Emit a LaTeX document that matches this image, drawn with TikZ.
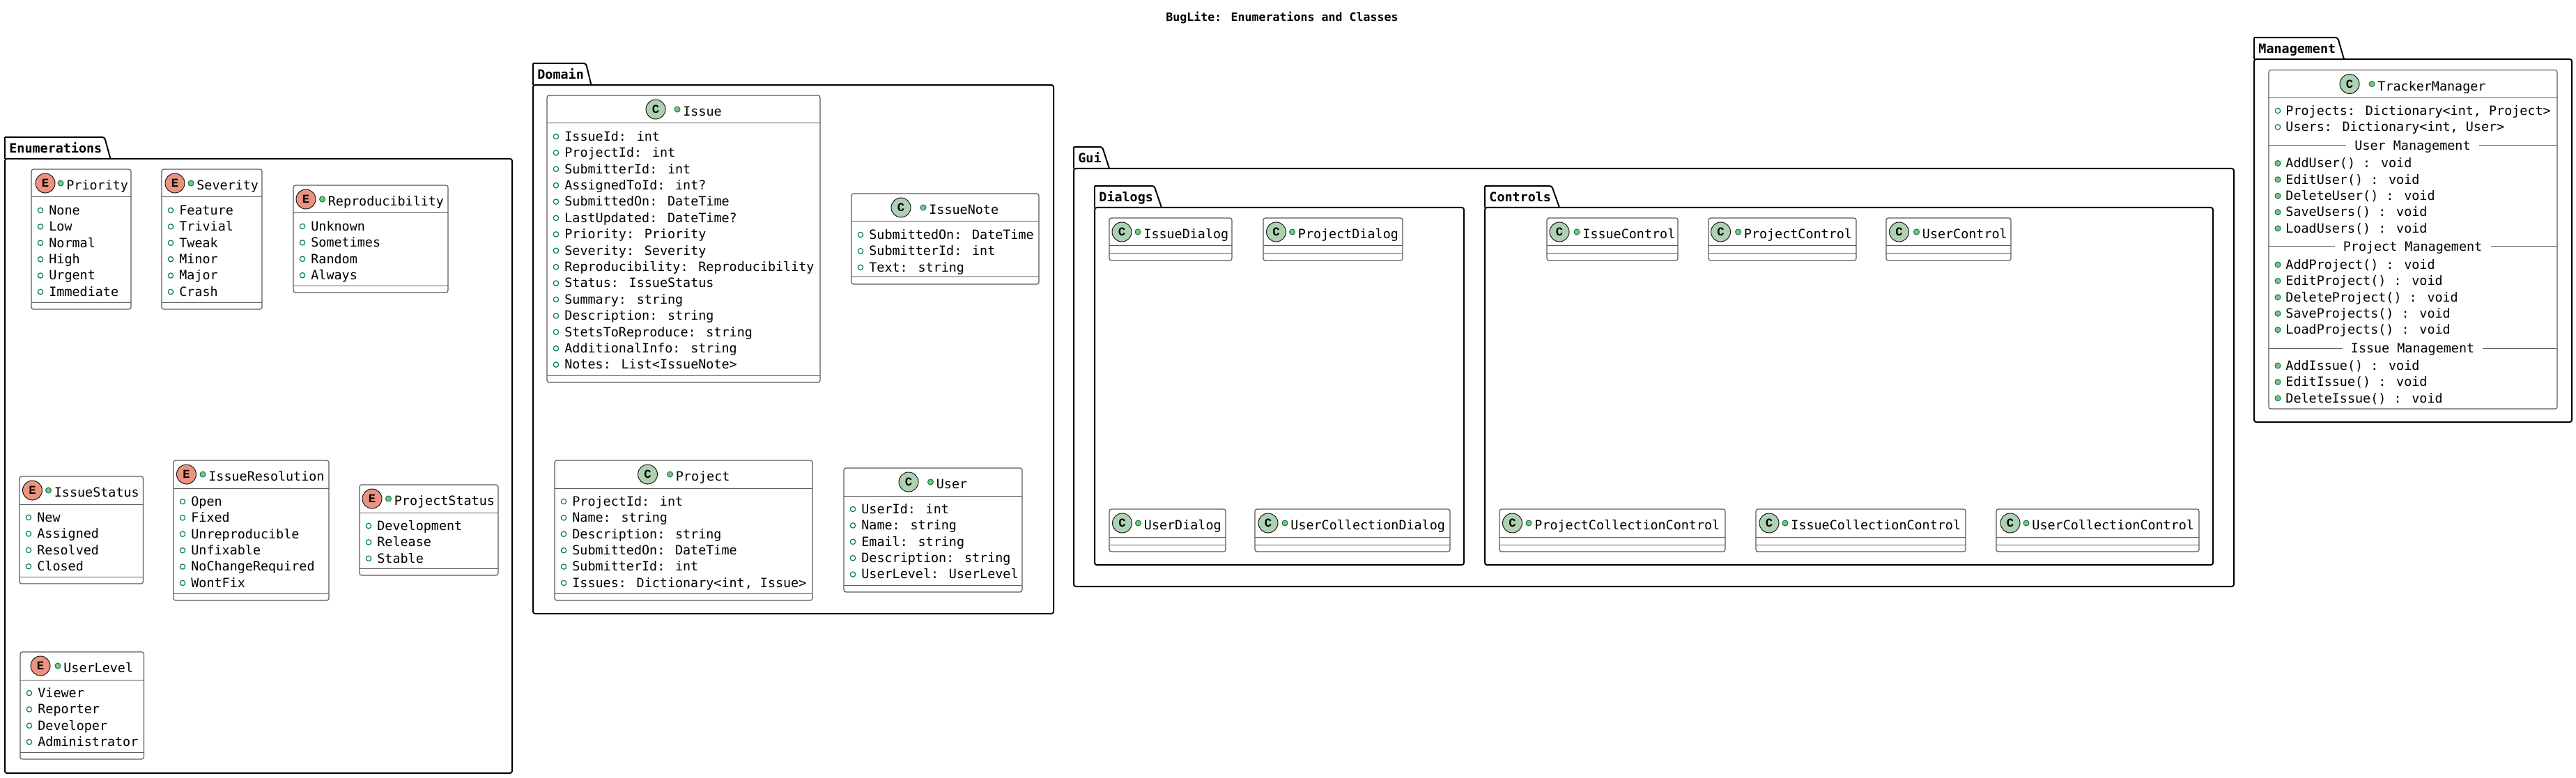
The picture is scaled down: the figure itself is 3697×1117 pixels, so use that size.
\documentclass[tikz,border=0pt]{standalone}
\usepackage{fontspec}
\usepackage{xcolor}
\setmainfont{DejaVu Sans Mono}
\newfontfamily\letterfont{Liberation Mono}[BoldFont={Liberation Mono Bold}]

\definecolor{enumfill}{HTML}{EB937F}
\definecolor{classfill}{HTML}{ADD1B2}
\definecolor{dotline}{HTML}{038048}
\definecolor{dotfill}{HTML}{84BE84}
\definecolor{boxline}{HTML}{5A5A5A}

% package: name, x1, x2, tab top, body top, bottom, tab right top, tab right foot, title
\newcommand{\umlpackage}[9]{
    \draw[pack] (#2,#4) -- (#7,#4) -- (#8,#5);
    \draw[pack] (#2,#5) -- (#2,#4);
    \draw[pack] (#2,#5) rectangle (#3,#6);
    \node[packtext] (#1) at (#2+6,#5-8) {#9};
}
% class: name, letter, x1, x2, top, bottom, ball x, text x, title
\newcommand{\umlclass}[9]{
    \draw[classbox] (#3,#5) rectangle (#4,#6);
    \draw[rule] (#3,#5+40) -- (#4,#5+40);
    \draw[rule] (#3,#6-10) -- (#4,#6-10);
    \node[ball#2] (#1-ball) at (#7,#5+20) {#2};
    \draw[pubdot] (#8-8,#5+20) circle (4);
    \node[rowtext] (#1) at (#8,#5+29.8) {#9};
}
% fields of a class: name, x1, top, rows
\newcommand{\umlrows}[4]{
    \foreach \row [count=\i from 0] in {#4} {
        \pgfmathsetmacro{\ry}{#3+59+23.4*\i}
        \draw[pubfield] (#2+13,\ry) circle (3.7);
        \node[rowtext] (#1-r\i) at (#2+25,\ry+6.3) {\row};
    }
}

\begin{document}
\begin{tikzpicture}[x=0.5pt,y=-0.5pt,
            pack/.style = {draw=black, line width=1pt, rounded corners=1.5pt},
            packtext/.style = {anchor=base west, inner sep=0pt, font=\fontsize{9.2}{11}\selectfont\bfseries},
            classbox/.style = {draw=boxline, line width=0.6pt, fill=white, rounded corners=1.5pt},
            rule/.style = {draw=boxline, line width=0.5pt},
            rowtext/.style = {anchor=base west, inner sep=0pt, font=\fontsize{9.2}{11}\selectfont},
            sectext/.style = {anchor=base, inner sep=0pt, font=\fontsize{9.2}{11}\selectfont},
            ballE/.style = {circle, draw=black!90, line width=0.5pt, fill=enumfill, minimum size=14pt, inner sep=0pt, font=\letterfont\fontsize{8.6}{9}\selectfont\bfseries},
            ballC/.style = {ballE, fill=classfill},
            pubdot/.style = {draw=dotline, line width=0.5pt, fill=dotfill},
            pubfield/.style = {draw=dotline, line width=0.6pt, fill=white}]
            \useasboundingbox (0,0) rectangle (3697,1117);
            % Title
            \node[anchor=base, inner sep=0pt, font=\fontsize{8.3}{10}\selectfont\bfseries] (title) at (1840,31) {BugLite: Enumerations and Classes};

            % Enumerations
            \umlpackage{enumerations}{7}{735}{197}{228}{1110}{150}{158.5}{Enumerations}
            \umlclass{priority}{E}{45}{188}{243}{444}{65}{95}{Priority}
            \umlrows{priority}{45}{243}{None,Low,Normal,High,Urgent,Immediate}
            \umlclass{severity}{E}{232}{376}{243}{444}{251}{282}{Severity}
            \umlrows{severity}{232}{243}{Feature,Trivial,Tweak,Minor,Major,Crash}
            \umlclass{reproducibility}{E}{421}{643}{266}{420}{439}{470.5}{Reproducibility}
            \umlrows{reproducibility}{421}{266}{Unknown,Sometimes,Random,Always}
            \umlclass{issuestatus}{E}{28}{205.5}{684}{838}{46.5}{77.5}{IssueStatus}
            \umlrows{issuestatus}{28}{684}{New,Assigned,Resolved,Closed}
            \umlclass{issueresolution}{E}{249}{472}{661}{862}{267.5}{299}{IssueResolution}
            \umlrows{issueresolution}{249}{661}{Open,Fixed,Unreproducible,Unfixable,NoChangeRequired,WontFix}
            \umlclass{projectstatus}{E}{516}{715}{696}{826}{534}{565.5}{ProjectStatus}
            \umlrows{projectstatus}{516}{696}{Development,Release,Stable}
            \umlclass{userlevel}{E}{29}{206.5}{936}{1090}{58}{91}{UserLevel}
            \umlrows{userlevel}{29}{936}{Viewer,Reporter,Developer,Administrator}

            % Domain
            \umlpackage{domain}{765}{1512}{91}{122}{881}{841}{848.5}{Domain}
            \umlclass{issue}{C}{785}{1177}{137}{549}{941}{980}{Issue}
            \umlrows{issue}{785}{137}{IssueId: int,ProjectId: int,SubmitterId: int,AssignedToId: int?,SubmittedOn: DateTime,LastUpdated: DateTime?,Priority: Priority,Severity: Severity,Reproducibility: Reproducibility,Status: IssueStatus,Summary: string,Description: string,StetsToReproduce: string,AdditionalInfo: string,Notes: List<IssueNote>}
            \umlclass{issuenote}{C}{1222}{1491}{278}{408}{1293}{1333}{IssueNote}
            \umlrows{issuenote}{1222}{278}{SubmittedOn: DateTime,SubmitterId: int,Text: string}
            \umlclass{project}{C}{796}{1166}{661}{862}{929.5}{969.5}{Project}
            \umlrows{project}{796}{661}{ProjectId: int,Name: string,Description: string,SubmittedOn: DateTime,SubmitterId: int,{Issues: Dictionary<int, Issue>}}
            \umlclass{user}{C}{1211}{1467}{672}{850}{1304}{1343.5}{User}
            \umlrows{user}{1211}{672}{UserId: int,Name: string,Email: string,Description: string,UserLevel: UserLevel}

            % Gui
            \umlpackage{gui}{1541}{3206}{211}{242}{842}{1582}{1592}{Gui}
            \umlpackage{dialogs}{1571}{2101}{267}{298}{811}{1656.5}{1667}{Dialogs}
            \umlclass{issuedialog}{C}{1592}{1768}{313}{374}{1610}{1641}{IssueDialog}
            \umlclass{projectdialog}{C}{1813}{2013}{313}{374}{1831.5}{1862.5}{ProjectDialog}
            \umlclass{userdialog}{C}{1592}{1759}{731}{792}{1610.5}{1641.5}{UserDialog}
            \umlclass{usercollectiondialog}{C}{1801}{2081}{731}{792}{1820}{1852}{UserCollectionDialog}
            \umlpackage{controls}{2131}{3176}{267}{298}{811}{2227}{2238}{Controls}
            \umlclass{issuecontrol}{C}{2220}{2408}{313}{374}{2238}{2271}{IssueControl}
            \umlclass{projectcontrol}{C}{2452}{2664}{313}{374}{2469.5}{2502.5}{ProjectControl}
            \umlclass{usercontrol}{C}{2707}{2886}{313}{374}{2725.5}{2758.5}{UserControl}
            \umlclass{projectcollectioncontrol}{C}{2152}{2476}{731}{792}{2170.5}{2202}{ProjectCollectionControl}
            \umlclass{issuecollectioncontrol}{C}{2520}{2821}{731}{792}{2539}{2570}{IssueCollectionControl}
            \umlclass{usercollectioncontrol}{C}{2865}{3156}{731}{792}{2885}{2916}{UserCollectionControl}

            % Management
            \umlpackage{management}{3235}{3691}{54}{85}{606}{3355}{3364}{Management}
            \draw[classbox] (3256,100.5) rectangle (3670,587);
            \draw[rule] (3256,140.5) -- (3670,140.5);
            \node[ballC] (trackermanager-ball) at (3372,120.5) {C};
            \draw[pubdot] (3404,120.5) circle (4);
            \node[rowtext] (trackermanager) at (3412,130.3) {TrackerManager};
            % Manager fields
            \foreach \y/\txt [count=\i] in {159/{Projects: Dictionary<int, Project>},182.4/{Users: Dictionary<int, User>}} {
                \draw[pubfield] (3269,\y) circle (3.7);
                \node[rowtext] (tracker-f\i) at (3280,\y+6.3) {\txt};
            }
            % Manager separators
            \foreach \y/\xa/\xb/\txt [count=\i] in {209/3367/3558/User Management,354/3351/3575/Project Management,500/3362/3563/Issue Management} {
                \draw[rule] (3256,\y) -- (\xa,\y);
                \draw[rule] (\xb,\y) -- (3670,\y);
                \node[sectext] (tracker-s\i) at (3462.5,\y+6.8) {\txt};
            }
            % Manager methods
            \foreach \y/\txt [count=\i] in {234.4/AddUser() : void,257.8/EditUser() : void,281.2/DeleteUser() : void,304.6/SaveUsers() : void,328/LoadUsers() : void,380/AddProject() : void,403.4/EditProject() : void,426.8/DeleteProject() : void,450.2/SaveProjects() : void,473.6/LoadProjects() : void,525/AddIssue() : void,548.4/EditIssue() : void,571.8/DeleteIssue() : void} {
                \draw[pubdot] (3269,\y) circle (4);
                \node[rowtext] (tracker-m\i) at (3280,\y+6.3) {\txt};
            }
\end{tikzpicture}
\end{document}
